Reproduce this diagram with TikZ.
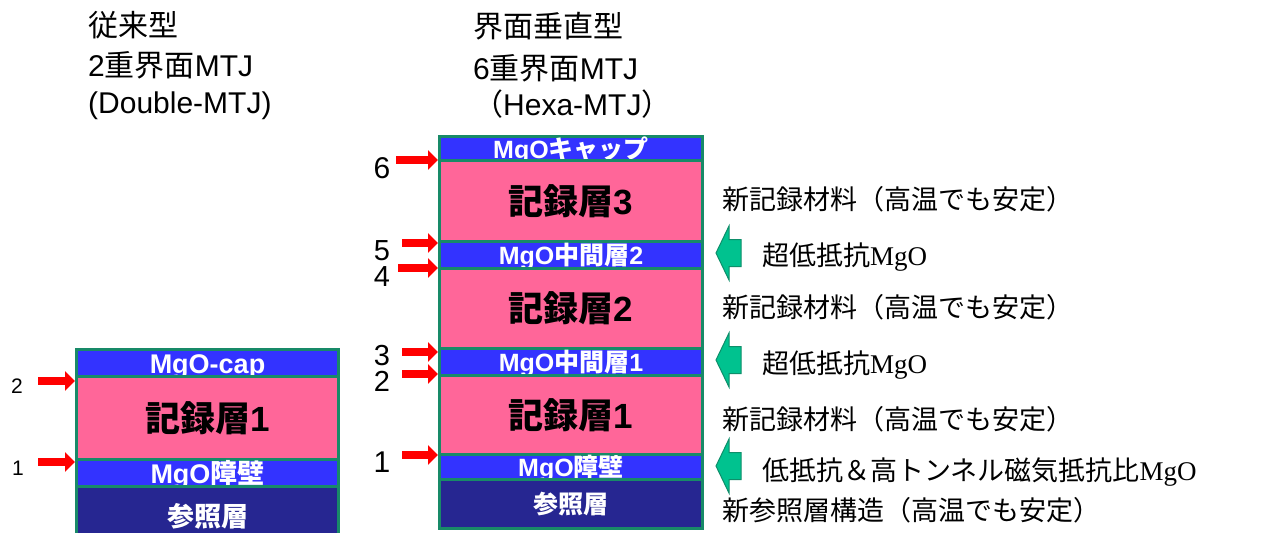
\documentclass[tikz,border=0pt]{standalone}
\usepackage{fontspec}
\newfontfamily\jp{Noto Sans CJK JP}
\newfontfamily\ls{Liberation Sans}
\newfontfamily\lsr{Liberation Serif}
\usetikzlibrary{arrows.meta}
\definecolor{mgob}{HTML}{3333FF}
\definecolor{recp}{HTML}{FF6699}
\definecolor{refn}{HTML}{262691}
\definecolor{edgeg}{RGB}{24,138,104}
\definecolor{arrg}{HTML}{00C28F}
\definecolor{arrgd}{HTML}{0E8E6A}
\newcommand\myfs[1]{\fontsize{#1}{#1}\selectfont}
\tikzset{
  layer/.style={draw=edgeg, line width=3pt, anchor=north west, inner sep=0pt,
    text=white, text depth=0pt},
  fsz/.style={font={\myfs{#1}\bfseries}, text height={0.76*#1pt}},
  redarr/.style={draw=red, line width=8pt, -{Triangle[length=10pt,width=19pt]}},
  garrow/.style={fill=arrg, draw=arrgd, line width=1pt},
  numlab/.style={font={\ls\myfs{#1}}, anchor=base, inner sep=0pt},
  title/.style={font={\myfs{30}}, anchor=base west, inner sep=0pt},
  desc/.style={font={\jp\myfs{27}}, anchor=base west, inner sep=0pt}
}
\begin{document}
\begin{tikzpicture}[x=1pt,y=-1pt]
\path[use as bounding box, clip] (0,0) rectangle (1286,533);
\fill[white] (0,0) rectangle (1286,533);

% titles
\node[title] (lt1) at (88,36) {\jp 従来型};
\node[title] (lt2) at (88,76) {{\ls 2}{\jp 重界面}{\ls MTJ}};
\node[title] (lt3) at (88,113) {\ls (Double-MTJ)};
\node[title] (rt1) at (473,37) {\jp 界面垂直型};
\node[title] (rt2) at (473,79) {{\ls 6}{\jp 重界面}{\ls MTJ}};
\node[title] (rt3) at (473,115) {{\jp （}{\ls Hexa-MTJ}{\jp ）}};

% left stack
\node[layer, fill=mgob, minimum width=262pt, minimum height=27pt, fsz=27] (lcap) at (75,348) {\ls MgO-cap};
\node[layer, fill=recp, minimum width=262pt, minimum height=83pt, fsz=35, text=black] (lrec) at (75,375) {{\jp 記録層}{\ls 1}};
\node[layer, fill=mgob, minimum width=262pt, minimum height=27pt, fsz=27] (lbar) at (75,458) {{\ls MgO}{\jp 障壁}};
\node[layer, fill=refn, minimum width=262pt, minimum height=60pt, fsz=27] (lref) at (75,485) {\jp 参照層};

% right stack
\node[layer, fill=mgob, minimum width=263pt, minimum height=24pt, fsz=25] (rcap) at (438,135) {{\ls MgO}{\jp キャップ}};
\node[layer, fill=recp, minimum width=263pt, minimum height=81pt, fsz=35, text=black] (rrec3) at (438,159) {{\jp 記録層}{\ls 3}};
\node[layer, fill=mgob, minimum width=263pt, minimum height=27pt, fsz=25] (rmid2) at (438,240) {{\ls MgO}{\jp 中間層}{\ls 2}};
\node[layer, fill=recp, minimum width=263pt, minimum height=80pt, fsz=35, text=black] (rrec2) at (438,267) {{\jp 記録層}{\ls 2}};
\node[layer, fill=mgob, minimum width=263pt, minimum height=27pt, fsz=25] (rmid1) at (438,347) {{\ls MgO}{\jp 中間層}{\ls 1}};
\node[layer, fill=recp, minimum width=263pt, minimum height=79pt, fsz=35, text=black] (rrec1) at (438,374) {{\jp 記録層}{\ls 1}};
\node[layer, fill=mgob, minimum width=263pt, minimum height=25pt, fsz=25] (rbar) at (438,453) {{\ls MgO}{\jp 障壁}};
\node[layer, fill=refn, minimum width=263pt, minimum height=49pt, fsz=25] (rref) at (438,478) {\jp 参照層};

% left arrows and labels
\coordinate (la2) at (38,381);
\coordinate (la1) at (38,462);
\draw[redarr] (la2) -- (la2 -| lrec.west);
\draw[redarr] (la1) -- (la1 -| lbar.west);
\node[numlab=21] (ln2) at (17,393) {2};
\node[numlab=21] (ln1) at (18,475) {1};

% right arrows and labels
\coordinate (ra6) at (396,160);
\coordinate (ra5) at (402,243);
\coordinate (ra4) at (398,268);
\coordinate (ra3) at (402,352);
\coordinate (ra2) at (402,374);
\coordinate (ra1) at (402,455);
\draw[redarr] (ra6) -- (ra6 -| rrec3.west);
\draw[redarr] (ra5) -- (ra5 -| rmid2.west);
\draw[redarr] (ra4) -- (ra4 -| rrec2.west);
\draw[redarr] (ra3) -- (ra3 -| rmid1.west);
\draw[redarr] (ra2) -- (ra2 -| rrec1.west);
\draw[redarr] (ra1) -- (ra1 -| rbar.west);
\node[numlab=30] (rn6) at (382,178) {6};
\node[numlab=29] (rn5) at (382,260) {5};
\node[numlab=29] (rn4) at (382,286) {4};
\node[numlab=29] (rn3) at (382,365) {3};
\node[numlab=29] (rn2) at (382,391) {2};
\node[numlab=30] (rn1) at (382,472) {1};

% green block arrows
\foreach \yy in {253,360,466}{
  \draw[garrow] (716,\yy) -- (729,\yy-27) -- (729,\yy-13.5) -- (741,\yy-13.5)
    -- (741,\yy+13.5) -- (729,\yy+13.5) -- (729,\yy+27) -- cycle;
}

% descriptions
\node[desc] (d1) at (722,209) {新記録材料（高温でも安定）};
\node[desc] (d2) at (762,265) {超低抵抗{\lsr MgO}};
\node[desc] (d3) at (722,317) {新記録材料（高温でも安定）};
\node[desc] (d4) at (762,373) {超低抵抗{\lsr MgO}};
\node[desc] (d5) at (722,429) {新記録材料（高温でも安定）};
\node[desc] (d6) at (762,480) {低抵抗＆高トンネル磁気抵抗比{\lsr MgO}};
\node[desc] (d7) at (722,520) {新参照層構造（高温でも安定）};
\end{tikzpicture}
\end{document}
